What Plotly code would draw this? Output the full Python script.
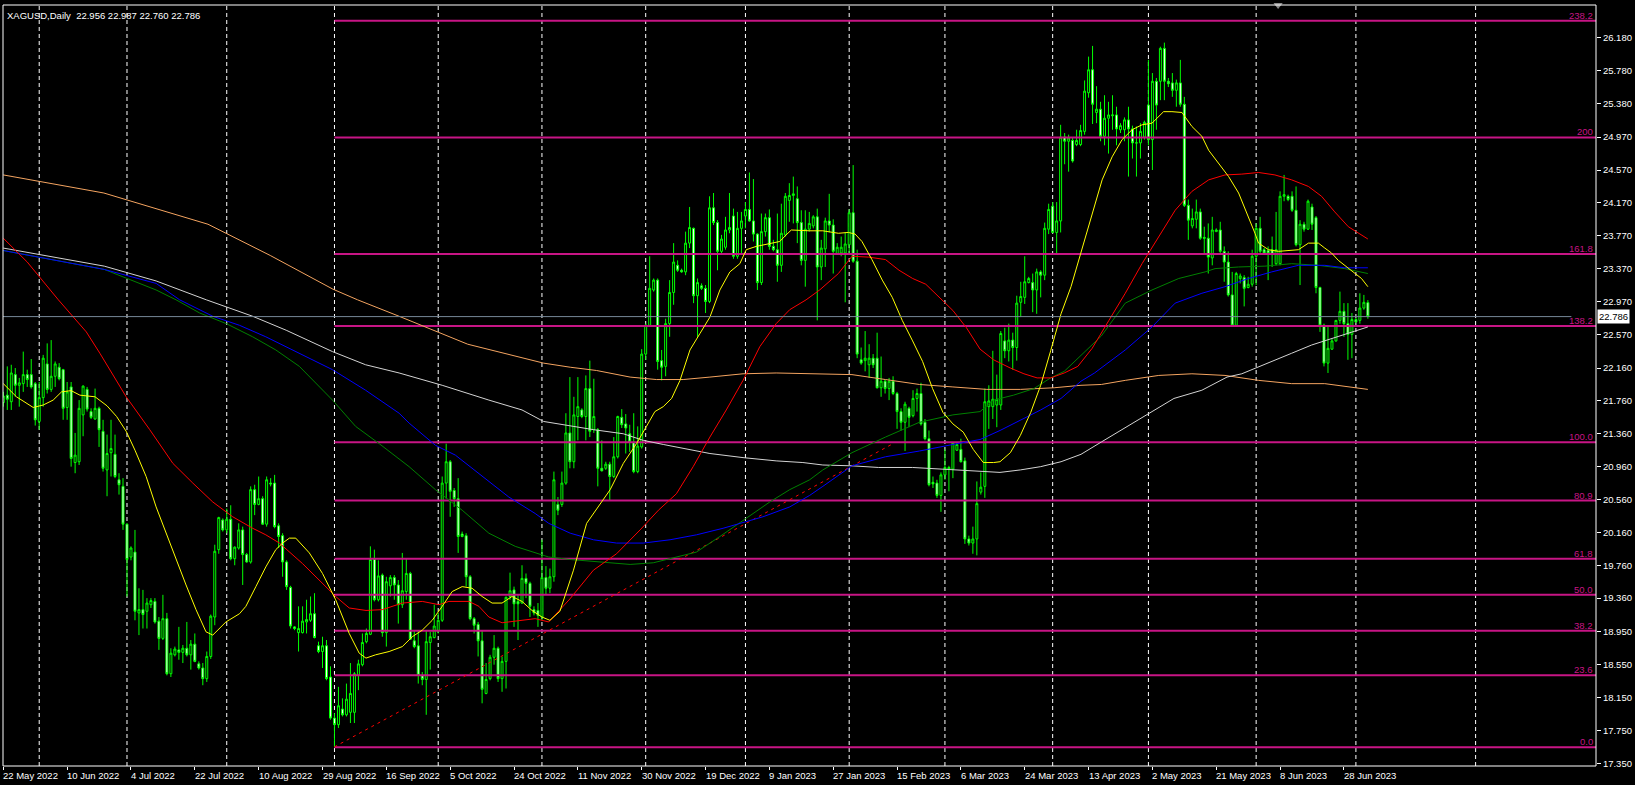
import plotly.graph_objects as go

# XAGUSD daily bars, index 0 = 22 May 2022 ... 342 = 5 Jul 2023 (broker has Sunday bars)
opens = [
    21.74, 21.83, 21.75, 22.08, 21.95, 21.97, 22.08, 22.08, 21.97, 21.51,
    21.80, 22.21, 21.90, 22.06, 22.17, 22.14, 21.68, 21.93, 21.01, 21.02,
    21.59, 21.90, 21.63, 21.54, 21.67, 21.39, 20.92, 21.13, 21.11, 20.80,
    20.72, 20.26, 19.86, 19.92, 19.18, 19.22, 19.20, 19.28, 19.32, 19.08,
    18.87, 19.11, 18.44, 18.67, 18.73, 18.70, 18.75, 18.67, 18.80, 18.56,
    18.51, 18.38, 18.65, 19.13, 19.95, 20.31, 20.19, 20.32, 19.84, 19.97,
    20.19, 19.89, 19.80, 20.68, 20.50, 20.57, 20.26, 20.76, 20.76, 20.24,
    20.12, 19.80, 19.49, 19.01, 18.94, 18.94, 19.07, 19.09, 19.17, 18.78,
    18.71, 18.78, 18.40, 17.90, 17.82, 18.01, 17.94, 17.97, 17.97, 18.42,
    18.55, 18.83, 18.92, 19.83, 19.34, 19.64, 18.94, 19.51, 19.61, 19.52,
    19.28, 19.44, 19.66, 18.84, 18.78, 18.42, 18.37, 18.82, 18.88, 18.96,
    19.09, 20.76, 21.02, 20.67, 20.57, 20.14, 20.12, 19.62, 19.11, 19.04,
    18.84, 18.20, 18.38, 18.64, 18.75, 18.38, 18.59, 19.38, 19.46, 19.32,
    19.30, 19.60, 19.54, 19.22, 19.21, 19.13, 19.61, 19.48, 19.62, 20.50,
    20.50, 20.76, 21.37, 21.02, 21.57, 21.65, 21.57, 21.91, 21.41, 21.41,
    20.94, 20.94, 20.99, 20.84, 21.08, 21.56, 21.48, 21.36, 21.26, 20.90,
    21.20, 22.33, 22.68, 23.11, 23.23, 22.25, 22.18, 22.70, 23.08, 23.41,
    23.35, 23.33, 23.68, 23.86, 23.04, 23.16, 23.13, 22.97, 24.11, 23.93,
    23.58, 23.63, 23.84, 24.01, 23.52, 23.86, 24.01, 24.09, 23.95, 23.79,
    23.20, 23.82, 23.99, 23.64, 23.60, 23.41, 23.78, 24.20, 24.26, 24.22,
    23.93, 23.47, 23.85, 23.89, 24.00, 23.39, 23.61, 23.95, 23.90, 23.55,
    23.56, 23.56, 23.66, 24.05, 23.46, 22.26, 22.25, 22.20, 22.28, 22.28,
    21.92, 22.00, 21.91, 22.00, 21.85, 21.63, 21.50, 21.67, 21.58, 21.79,
    21.85, 21.50, 21.30, 20.77, 20.76, 20.61, 20.86, 20.95, 20.93, 21.16,
    21.17, 21.03, 20.08, 20.03, 20.08, 20.65, 20.72, 21.69, 21.69, 21.71,
    21.71, 22.49, 22.37, 22.50, 22.41, 22.96, 23.02, 23.20, 23.20, 23.11,
    23.33, 23.29, 23.85, 24.13, 23.81, 23.95, 24.97, 24.92, 24.93, 24.88,
    24.88, 25.04, 25.51, 25.79, 25.27, 25.31, 24.98, 25.20, 25.23, 25.24,
    25.06, 25.06, 25.18, 25.07, 24.90, 24.90, 24.97, 25.36, 24.94, 25.65,
    25.65, 26.05, 25.65, 25.63, 25.54, 25.63, 25.37, 24.14, 23.89, 23.97,
    24.06, 23.75, 23.74, 23.50, 23.82, 23.84, 23.58, 23.45, 23.05, 22.68,
    23.25, 23.26, 23.14, 23.18, 23.52, 23.86, 23.60, 23.59, 23.60, 23.43,
    23.43, 24.25, 24.25, 24.25, 24.08, 23.66, 23.91, 23.85, 24.12, 23.99,
    23.14, 22.68, 22.22, 22.39, 22.49, 22.74, 22.85, 22.70, 22.57, 22.75,
    22.74, 22.89, 22.956,
]
highs = [
    21.87, 22.18, 22.20, 22.16, 22.04, 22.36, 22.14, 22.27, 21.99, 21.99,
    22.32, 22.46, 22.50, 22.24, 22.22, 22.15, 21.99, 21.99, 21.37, 21.77,
    21.95, 21.93, 21.67, 21.91, 21.69, 21.53, 21.35, 21.53, 21.35, 20.88,
    20.82, 20.27, 19.99, 20.19, 19.48, 19.46, 19.36, 19.36, 19.36, 19.13,
    19.40, 19.18, 18.75, 18.77, 19.01, 18.79, 19.07, 18.85, 18.93, 18.59,
    18.57, 18.71, 19.16, 20.01, 20.35, 20.33, 20.45, 20.49, 19.99, 20.27,
    20.23, 19.91, 20.72, 20.74, 20.84, 20.60, 20.84, 20.82, 20.86, 20.27,
    20.15, 19.82, 19.51, 19.02, 19.26, 19.26, 19.34, 19.38, 19.42, 18.83,
    18.89, 18.85, 18.53, 17.96, 18.28, 18.14, 18.32, 18.57, 18.46, 18.61,
    18.93, 18.99, 19.99, 19.95, 19.82, 19.66, 19.62, 19.64, 19.64, 19.58,
    19.91, 19.84, 19.68, 18.97, 18.97, 18.46, 18.97, 18.95, 19.28, 19.18,
    20.84, 21.24, 21.04, 20.70, 20.82, 20.17, 20.15, 19.64, 19.13, 19.07,
    18.97, 18.57, 18.67, 18.91, 18.77, 18.65, 19.38, 19.67, 19.50, 19.40,
    19.76, 19.66, 19.56, 19.26, 19.30, 20.07, 19.75, 19.72, 20.90, 20.59,
    20.90, 21.61, 22.05, 21.81, 22.05, 21.67, 22.07, 22.25, 22.03, 21.43,
    21.28, 21.02, 21.02, 21.32, 21.58, 21.66, 21.60, 21.47, 21.61, 21.45,
    22.39, 22.70, 23.52, 23.25, 23.25, 22.38, 22.76, 23.23, 23.68, 23.47,
    23.37, 23.82, 24.12, 23.87, 23.25, 23.19, 23.17, 24.25, 24.29, 23.96,
    23.78, 24.00, 24.29, 24.10, 24.06, 24.06, 24.18, 24.54, 24.46, 23.80,
    24.04, 24.04, 24.09, 23.72, 24.04, 24.16, 24.29, 24.41, 24.49, 24.37,
    24.08, 24.08, 24.06, 24.02, 24.10, 23.72, 23.99, 24.28, 23.97, 23.68,
    23.76, 23.81, 24.09, 24.63, 23.60, 22.41, 22.61, 22.45, 22.33, 22.59,
    22.30, 22.02, 22.04, 22.06, 21.87, 21.67, 21.75, 21.69, 21.89, 21.91,
    21.98, 21.54, 21.40, 20.84, 20.80, 20.89, 21.17, 20.97, 21.26, 21.26,
    21.30, 21.07, 20.12, 20.23, 20.78, 20.89, 21.91, 21.95, 22.37, 22.08,
    22.61, 22.65, 22.70, 22.59, 23.04, 23.21, 23.52, 23.27, 23.31, 23.37,
    23.35, 23.93, 24.16, 24.18, 24.18, 25.12, 25.02, 25.00, 24.96, 25.06,
    25.12, 25.66, 25.95, 26.08, 25.59, 25.40, 25.48, 25.40, 25.48, 25.34,
    25.14, 25.21, 25.34, 25.11, 25.10, 25.14, 25.17, 25.91, 25.75, 25.69,
    26.07, 26.12, 25.69, 25.75, 25.67, 25.91, 25.46, 24.21, 24.10, 24.21,
    24.10, 23.88, 23.92, 24.00, 23.86, 23.94, 23.64, 23.58, 23.33, 23.33,
    23.31, 23.29, 23.27, 23.60, 23.92, 24.00, 23.62, 23.64, 23.76, 24.06,
    24.31, 24.51, 24.27, 24.31, 24.37, 23.96, 23.94, 24.21, 24.16, 24.01,
    23.15, 22.70, 22.66, 22.52, 22.74, 23.09, 22.95, 22.95, 22.83, 22.77,
    23.07, 23.05, 22.987,
]
lows = [
    21.69, 21.65, 21.65, 21.81, 21.69, 21.87, 21.93, 21.91, 21.46, 21.41,
    21.69, 21.85, 21.87, 21.93, 22.01, 21.53, 21.53, 20.96, 20.88, 20.98,
    21.33, 21.63, 21.54, 21.53, 21.20, 20.90, 20.60, 20.84, 20.82, 20.62,
    20.19, 19.38, 19.82, 19.09, 18.91, 18.99, 18.99, 19.24, 19.05, 18.73,
    18.85, 18.42, 18.40, 18.65, 18.61, 18.57, 18.65, 18.49, 18.58, 18.49,
    18.30, 18.34, 18.62, 19.03, 19.90, 20.17, 20.15, 19.82, 19.76, 19.95,
    19.52, 19.79, 19.78, 20.37, 20.49, 20.25, 20.23, 20.72, 20.21, 19.97,
    19.62, 19.46, 18.99, 18.97, 18.71, 18.93, 18.93, 19.07, 18.87, 18.69,
    18.51, 18.36, 17.88, 17.55, 17.78, 17.92, 17.92, 17.84, 17.84, 18.24,
    18.53, 18.81, 18.91, 19.32, 19.32, 18.89, 18.77, 19.38, 19.34, 19.05,
    19.24, 19.34, 18.85, 18.75, 18.32, 18.30, 17.94, 18.49, 18.87, 18.93,
    19.07, 20.57, 20.35, 20.47, 19.91, 20.10, 19.50, 19.09, 18.93, 18.65,
    18.08, 18.19, 18.36, 18.55, 18.34, 18.22, 18.26, 19.34, 19.01, 18.85,
    19.29, 19.36, 19.13, 19.15, 19.01, 19.09, 19.40, 19.42, 19.56, 20.37,
    20.47, 20.74, 20.94, 20.94, 21.28, 21.55, 21.28, 21.32, 21.37, 20.72,
    20.90, 20.92, 20.55, 20.82, 21.06, 21.43, 21.12, 21.14, 20.88, 20.88,
    21.18, 22.26, 22.66, 23.09, 22.14, 22.01, 22.06, 22.54, 22.93, 23.33,
    23.32, 23.29, 23.62, 22.95, 22.54, 23.11, 22.83, 22.95, 23.90, 23.35,
    23.56, 23.60, 23.80, 23.49, 23.49, 23.54, 23.86, 23.94, 23.70, 23.11,
    23.17, 23.76, 23.60, 23.58, 23.21, 23.33, 23.76, 23.94, 23.92, 23.68,
    23.41, 23.15, 23.82, 23.86, 22.74, 23.23, 23.39, 23.81, 23.31, 23.54,
    23.52, 22.96, 23.56, 23.44, 22.28, 22.20, 22.12, 22.04, 22.16, 21.91,
    21.81, 21.85, 21.77, 21.83, 21.42, 21.40, 21.15, 21.44, 21.56, 21.63,
    21.46, 21.28, 20.72, 20.70, 20.58, 20.41, 20.80, 20.66, 20.82, 21.15,
    21.01, 20.02, 20.00, 19.90, 19.88, 20.62, 20.58, 21.42, 21.54, 21.44,
    21.65, 22.28, 22.24, 22.14, 22.25, 22.78, 22.94, 23.19, 22.84, 22.82,
    23.02, 23.23, 23.79, 23.80, 23.55, 23.81, 24.64, 24.55, 24.66, 24.86,
    24.86, 25.00, 25.45, 25.13, 25.14, 24.92, 24.87, 24.77, 25.06, 24.87,
    25.02, 24.92, 24.49, 24.71, 24.49, 24.71, 24.94, 24.87, 24.57, 25.06,
    25.42, 25.42, 25.58, 25.46, 25.34, 25.34, 24.12, 23.72, 23.86, 23.86,
    23.72, 23.56, 23.31, 23.41, 23.82, 23.56, 23.21, 23.03, 22.66, 22.66,
    23.19, 22.91, 23.13, 23.15, 23.17, 23.56, 23.56, 23.23, 23.39, 23.41,
    23.41, 24.19, 24.19, 24.06, 23.64, 23.17, 23.82, 23.84, 23.84, 23.07,
    22.60, 22.18, 22.10, 22.38, 22.48, 22.70, 22.54, 22.26, 22.28, 22.71,
    22.70, 22.87, 22.760,
]
closes = [
    21.82, 21.78, 22.10, 21.95, 21.98, 22.08, 22.02, 21.93, 21.53, 21.80,
    22.28, 21.90, 22.06, 22.21, 22.03, 21.67, 21.87, 21.06, 21.10, 21.67,
    21.94, 21.66, 21.56, 21.67, 21.41, 20.94, 21.12, 21.18, 20.84, 20.74,
    20.26, 19.83, 19.97, 19.20, 19.22, 19.16, 19.30, 19.33, 19.07, 18.87,
    19.11, 18.44, 18.69, 18.74, 18.70, 18.75, 18.67, 18.80, 18.59, 18.51,
    18.38, 18.65, 19.14, 19.93, 20.34, 20.19, 20.32, 19.84, 19.98, 20.19,
    19.89, 19.80, 20.68, 20.50, 20.57, 20.26, 20.80, 20.75, 20.23, 20.11,
    19.80, 19.50, 19.02, 18.99, 18.99, 19.08, 19.10, 19.17, 18.88, 18.71,
    18.78, 18.38, 17.90, 17.82, 18.05, 17.94, 18.13, 18.20, 18.44, 18.56,
    18.82, 18.93, 19.83, 19.34, 19.63, 18.94, 19.56, 19.61, 19.52, 19.28,
    19.45, 19.66, 18.86, 18.77, 18.42, 18.37, 18.83, 18.89, 19.02, 19.09,
    20.76, 21.02, 20.66, 20.57, 20.11, 20.11, 19.62, 19.11, 19.03, 18.84,
    18.25, 18.37, 18.64, 18.75, 18.38, 18.59, 19.37, 19.45, 19.29, 19.29,
    19.60, 19.54, 19.26, 19.18, 19.15, 19.61, 19.48, 19.62, 20.80, 20.43,
    20.76, 21.37, 21.02, 21.59, 21.69, 21.57, 21.91, 21.39, 21.57, 20.94,
    20.91, 20.99, 20.84, 21.08, 21.57, 21.47, 21.43, 21.26, 20.90, 21.21,
    22.33, 22.68, 23.13, 23.23, 22.24, 22.17, 22.70, 23.08, 23.45, 23.35,
    23.33, 23.68, 23.87, 23.04, 23.20, 23.13, 22.97, 24.11, 23.93, 23.58,
    23.73, 23.84, 23.87, 23.52, 23.86, 23.95, 24.09, 23.95, 23.79, 23.20,
    23.82, 23.99, 23.64, 23.60, 23.41, 23.80, 24.25, 24.26, 24.28, 23.93,
    23.47, 23.85, 23.92, 24.00, 23.39, 23.62, 23.95, 23.90, 23.58, 23.63,
    23.63, 23.67, 24.05, 23.46, 22.33, 22.22, 22.28, 22.28, 22.20, 21.92,
    22.00, 21.91, 22.00, 21.85, 21.63, 21.50, 21.72, 21.56, 21.79, 21.85,
    21.48, 21.30, 20.74, 20.75, 20.61, 20.86, 20.95, 20.93, 21.25, 21.23,
    21.02, 20.08, 20.03, 20.08, 20.51, 20.71, 21.75, 21.76, 21.78, 21.78,
    22.58, 22.37, 22.50, 22.41, 22.95, 23.03, 23.21, 23.25, 23.11, 23.33,
    23.29, 23.86, 24.09, 23.81, 23.95, 24.97, 24.92, 24.96, 24.68, 24.93,
    25.05, 25.53, 25.79, 25.37, 25.31, 24.98, 25.20, 25.24, 25.24, 25.07,
    25.11, 25.18, 25.07, 24.90, 24.90, 25.04, 25.15, 24.94, 25.65, 25.36,
    26.05, 25.65, 25.62, 25.54, 25.63, 25.37, 24.14, 23.96, 23.98, 24.06,
    23.74, 23.74, 23.51, 23.84, 23.84, 23.58, 23.45, 23.05, 22.68, 23.31,
    23.28, 23.13, 23.18, 23.52, 23.86, 23.58, 23.56, 23.55, 23.54, 23.60,
    24.25, 24.27, 24.21, 24.08, 23.66, 23.91, 23.85, 24.19, 23.91, 23.14,
    22.68, 22.22, 22.40, 22.49, 22.74, 22.85, 22.70, 22.57, 22.75, 22.72,
    22.89, 22.96, 22.786,
]
bars = list(range(len(closes)))

# moving averages, sampled along the bar index
ma_yellow_x = [0, 3.3, 7.5, 10, 12.5, 14.6, 17, 19.2, 23, 26, 28.4, 30.8, 33, 35.8, 38.3, 40.8,
               43.3, 45.8, 48.3, 50.8, 52.5, 55.8, 59.2, 60.8, 63.3, 65.8, 68.3, 70, 71.7, 73.3,
               76.7, 80, 83.3, 86.7, 89.2, 90.9, 93.3, 96.7, 100, 102.5, 105, 107.5, 110, 112.5,
               115, 117.5, 120, 122.5, 125, 127.5, 130, 132.5, 135, 137, 139.5, 142.9, 146.2,
               149.6, 152.1, 155.4, 158.7, 161.2, 163.3, 165.4, 167.5, 169.6, 172.1, 174.6,
               177.1, 179.6, 182.1, 184.6, 186.2, 188.7, 192.1, 194.6, 196.2, 197.5, 202,
               205.4, 209.3, 211.8, 213.5, 215.2, 217.7, 220.3, 222.8, 225.3, 227.9, 230.4,
               232.9, 235.5, 238, 240.6, 243.1, 245.6, 248.2, 249.8, 252.4, 254.9, 257.5, 260,
               262.5, 265.1, 267.6, 270.1, 272.9, 275.4, 277.9, 280.4, 282.9, 285.4, 287.9,
               289.6, 290.8, 292.9, 295.4, 297.9, 300.4, 302.1, 304.6, 307.1, 309.6, 312.1,
               313.7, 314.6, 317.1, 319.6, 322.9, 324.6, 327.1, 329.6, 331.2, 332.9, 334.6,
               336.2, 338.7, 340.4, 342]
ma_yellow_y = [21.97, 21.81, 21.68, 21.71, 21.77, 21.87, 21.885, 21.83, 21.81, 21.70, 21.57,
               21.39, 21.16, 20.84, 20.47, 20.15, 19.82, 19.52, 19.22, 18.95, 18.91, 19.07,
               19.17, 19.26, 19.50, 19.74, 19.95, 20.03, 20.09, 20.09, 19.91, 19.66, 19.34,
               18.93, 18.69, 18.63, 18.67, 18.71, 18.77, 18.89, 18.97, 19.09, 19.26, 19.44,
               19.50, 19.48, 19.38, 19.30, 19.30, 19.38, 19.32, 19.21, 19.13, 19.09, 19.20,
               19.70, 20.27, 20.51, 20.68, 21.00, 21.24, 21.45, 21.63, 21.69, 21.79, 22.01,
               22.38, 22.58, 22.78, 23.11, 23.33, 23.43, 23.60, 23.64, 23.68, 23.70, 23.78,
               23.84, 23.83, 23.83, 23.80, 23.81, 23.79, 23.70, 23.48, 23.23, 23.02, 22.74,
               22.49, 22.24, 21.91, 21.62, 21.48, 21.38, 21.17, 21.01, 21.01, 21.02, 21.13,
               21.34, 21.62, 21.95, 22.37, 22.82, 23.15, 23.56, 24.02, 24.45, 24.73, 24.94,
               25.06, 25.12, 25.14, 25.22, 25.28, 25.28, 25.27, 25.10, 24.98, 24.81, 24.65,
               24.49, 24.29, 24.00, 23.80, 23.68, 23.60, 23.58, 23.59, 23.60, 23.68, 23.68,
               23.62, 23.56, 23.47, 23.41, 23.31, 23.25, 23.15]

ma_red_x = [0, 6, 13.8, 18.3, 20.8, 24.2, 30.8, 36.7, 42.5, 47.5, 52.5, 57.5, 62.5, 65.8, 69.2,
            75, 79.2, 83.3, 86.7, 90.9, 95, 100, 105, 109.2, 111.7, 116.7, 119.2, 121.7, 125,
            129.2, 133.3, 136.7, 142, 147.9, 153.7, 159.6, 164.2, 168.7, 172.9, 177.1, 181.2,
            185.4, 189.6, 193.7, 197.1, 201.2, 204.6, 209.3, 212.7, 216.9, 221.1, 224.5,
            227.9, 231.2, 234.6, 238, 241.4, 244.8, 248.2, 252.4, 255.8, 259.1, 262.5, 265.9,
            269.3, 272.9, 277.1, 281.2, 285.4, 289.6, 293.7, 297.9, 302.1, 306.2, 310.4,
            314.6, 318.7, 322.9, 327.1, 330.4, 333.7, 337.1, 339.6, 342]
ma_red_y = [23.74, 23.45, 22.99, 22.745, 22.60, 22.34, 21.81, 21.41, 21.00, 20.76, 20.53, 20.35,
            20.21, 20.13, 20.03, 19.78, 19.58, 19.38, 19.24, 19.21, 19.22, 19.30, 19.32, 19.28,
            19.32, 19.32, 19.26, 19.13, 19.06, 19.09, 19.11, 19.07, 19.35, 19.70, 19.90, 20.19,
            20.43, 20.63, 20.96, 21.32, 21.65, 22.01, 22.42, 22.70, 22.87, 22.99, 23.11, 23.31,
            23.52, 23.51, 23.48, 23.35, 23.25, 23.18, 23.02, 22.86, 22.65, 22.39, 22.26, 22.16,
            22.09, 22.04, 22.04, 22.10, 22.18, 22.40, 22.74, 23.07, 23.43, 23.76, 24.08, 24.31,
            24.45, 24.51, 24.52, 24.54, 24.51, 24.45, 24.37, 24.25, 24.06, 23.88, 23.80, 23.73]

ma_green_x = [0, 25.3, 38.3, 43.3, 49.2, 55.9, 62.5, 68.3, 74.2, 82.5, 88.3, 94.2, 101.7, 108.3,
              115, 121.7, 128.3, 133.3, 136.7, 142.1, 150.4, 157.1, 162.9, 168.7, 173.7, 179.6,
              185.4, 192.1, 197.1, 202.1, 205.4, 212.7, 221.1, 229.6, 238, 244.8, 248.2, 253.2,
              258.3, 262.5, 265.9, 269.3, 272.8, 275.2, 281.2, 287.9, 294.6, 301.2, 303.7,
              309.6, 316.2, 322.9, 329.6, 336.2, 342]
ma_green_y = [23.59, 23.36, 23.11, 22.99, 22.83, 22.70, 22.54, 22.38, 22.18, 21.77, 21.45, 21.24,
              20.96, 20.68, 20.43, 20.15, 19.99, 19.91, 19.86, 19.83, 19.80, 19.77, 19.79, 19.86,
              19.92, 20.11, 20.31, 20.53, 20.68, 20.80, 20.92, 21.13, 21.32, 21.50, 21.59, 21.63,
              21.77, 21.83, 21.91, 22.04, 22.12, 22.28, 22.44, 22.55, 22.95, 23.11, 23.25, 23.33,
              23.37, 23.39, 23.40, 23.43, 23.41, 23.37, 23.31]

ma_blue_x = [0, 25.3, 38.3, 44.2, 52.5, 59.2, 65.8, 74.2, 82.5, 90.8, 99.2, 101.7, 108.3, 113.3,
             120, 126.7, 133.3, 136.7, 142.1, 147.9, 153.7, 160.4, 167.1, 173.7, 180.4, 185.4,
             190.4, 197.1, 202.1, 205.4, 212.7, 221.1, 229.6, 238, 244.8, 249.8, 254.9, 260,
             265.1, 270.1, 273.5, 281.2, 287.9, 293.7, 300.4, 306.2, 312.1, 317.9, 324.6, 331.2,
             336.2, 342]
ma_blue_y = [23.59, 23.36, 23.19, 22.99, 22.79, 22.68, 22.54, 22.34, 22.14, 21.89, 21.61, 21.49,
             21.22, 21.10, 20.84, 20.59, 20.39, 20.27, 20.15, 20.07, 20.03, 20.03, 20.07, 20.13,
             20.21, 20.28, 20.35, 20.47, 20.61, 20.72, 20.97, 21.08, 21.15, 21.23, 21.29, 21.40,
             21.52, 21.65, 21.79, 22.00, 22.10, 22.38, 22.66, 22.95, 23.07, 23.15, 23.25, 23.33,
             23.41, 23.41, 23.38, 23.38]

ma_white_x = [0, 25.3, 38.3, 50.9, 62.5, 70.9, 82.5, 90.8, 99.2, 110, 121.7, 130, 135.4, 140.4,
              147.9, 155.4, 160.4, 165.4, 170.4, 177.1, 185.4, 193.7, 200.4, 205.4, 212.7, 219.4,
              227.9, 236.3, 243.1, 249.8, 254.9, 260, 265.1, 270.1, 275.2, 280, 285, 293.4,
              300.4, 306.7, 310.4, 317.1, 322.9, 327.9, 332.9, 337.9, 342]
ma_white_y = [23.62, 23.40, 23.22, 22.99, 22.79, 22.62, 22.36, 22.20, 22.10, 21.95, 21.77, 21.65,
              21.51, 21.47, 21.41, 21.36, 21.28, 21.23, 21.18, 21.12, 21.07, 21.03, 21.01, 20.98,
              20.97, 20.95, 20.95, 20.93, 20.91, 20.89, 20.92, 20.96, 21.02, 21.11, 21.26, 21.40,
              21.55, 21.79, 21.89, 22.05, 22.09, 22.22, 22.34, 22.44, 22.52, 22.60, 22.66]

ma_orange_x = [0, 25.2, 51.3, 66.9, 82.6, 88.8, 99.2, 116.4, 135.4, 142.1, 148.7, 157.1, 163.7,
               170.4, 177.1, 185.4, 193.7, 200.4, 205.4, 212.7, 221.1, 229.6, 238, 246.5, 254.9,
               263.4, 270.1, 275.2, 281.2, 289.6, 297.9, 306.2, 314.6, 322.9, 331.2, 342]
ma_orange_y = [24.51, 24.29, 23.91, 23.53, 23.12, 22.99, 22.79, 22.45, 22.22, 22.17, 22.13, 22.05,
               22.02, 22.02, 22.05, 22.09, 22.10, 22.09, 22.09, 22.08, 22.02, 21.96, 21.93, 21.90,
               21.90, 21.92, 21.95, 21.96, 22.01, 22.07, 22.09, 22.07, 22.01, 21.97, 21.97, 21.90]

# fibonacci retracement from the Sep 2022 low
fib_names = ["0.0", "23.6", "38.2", "50.0", "61.8", "80.9", "100.0", "138.2", "161.8", "200", "238.2"]
fib_levels = [17.545, 18.421, 18.963, 19.401, 19.838, 20.547, 21.256, 22.673, 23.549, 24.967, 26.385]
fib_start_bar = 83

trend_bars = [83, 223]
trend_prices = [17.55, 21.24]

last_price = 22.786
header = "XAGUSD,Daily\u00a0\u00a022.956 22.987 22.760 22.786"

price_ticks = [26.18, 25.78, 25.38, 24.97, 24.57, 24.17, 23.77, 23.37, 22.97, 22.57, 22.16,
               21.76, 21.36, 20.96, 20.56, 20.16, 19.76, 19.36, 18.95, 18.55, 18.15, 17.75, 17.35]

date_labels = ["22 May 2022", "10 Jun 2022", "4 Jul 2022", "22 Jul 2022", "10 Aug 2022",
               "29 Aug 2022", "16 Sep 2022", "5 Oct 2022", "24 Oct 2022", "11 Nov 2022",
               "30 Nov 2022", "19 Dec 2022", "9 Jan 2023", "27 Jan 2023", "15 Feb 2023",
               "6 Mar 2023", "24 Mar 2023", "13 Apr 2023", "2 May 2023", "21 May 2023",
               "8 Jun 2023", "28 Jun 2023"]
date_label_bars = [0, 16, 32, 48, 64, 80, 96, 112, 128, 144, 160, 176, 192, 208, 224, 240,
                   256, 272, 288, 304, 320, 336]
month_start_bars = [9, 31, 56, 83, 109, 135, 161, 186, 212, 236, 263, 287, 314, 339, 369]

X_MIN, X_MAX = -0.075, 399.175
Y_MIN, Y_MAX = 17.317, 26.578
FONT = "Liberation Sans, Arial, sans-serif"
FIB_COLOR = "#C71585"

fig = go.Figure()

fig.add_trace(go.Candlestick(
    x=bars, open=opens, high=highs, low=lows, close=closes,
    increasing=dict(line=dict(color="#00FF00", width=1), fillcolor="#000000"),
    decreasing=dict(line=dict(color="#00FF00", width=1), fillcolor="#FFFFFF"),
    whiskerwidth=0, showlegend=False, hoverinfo="skip",
))

# fib levels
for lvl in fib_levels:
    fig.add_trace(go.Scatter(x=[fib_start_bar, X_MAX], y=[lvl, lvl], mode="lines",
                             line=dict(color=FIB_COLOR, width=2), showlegend=False,
                             hoverinfo="skip"))

# trendline
fig.add_trace(go.Scatter(x=trend_bars, y=trend_prices, mode="lines",
                         line=dict(color="#FF0000", width=1, dash="3px,4px"),
                         showlegend=False, hoverinfo="skip"))

for xs, ys, col in [
    (ma_orange_x, ma_orange_y, "#F4A460"),
    (ma_white_x, ma_white_y, "#D3D3D3"),
    (ma_green_x, ma_green_y, "#008000"),
    (ma_blue_x, ma_blue_y, "#0000FF"),
    (ma_red_x, ma_red_y, "#FF0000"),
    (ma_yellow_x, ma_yellow_y, "#FFFF00"),
]:
    fig.add_trace(go.Scatter(x=xs, y=ys, mode="lines", line=dict(color=col, width=1),
                             showlegend=False, hoverinfo="skip"))

# bid line
fig.add_trace(go.Scatter(x=[X_MIN, 393], y=[last_price, last_price], mode="lines",
                         line=dict(color="#778899", width=1), showlegend=False,
                         hoverinfo="skip"))

# chart shift marker
fig.add_trace(go.Scatter(x=[319.5], y=[Y_MAX], mode="markers",
                         marker=dict(symbol="triangle-down", size=8, color="#8A8A8A"),
                         cliponaxis=False, showlegend=False, hoverinfo="skip"))

shapes = []
for b in month_start_bars:
    shapes.append(dict(type="line", xref="x", yref="paper", x0=b, x1=b, y0=0, y1=1,
                       line=dict(color="#FFFFFF", width=1, dash="4px,3px"), layer="below"))
shapes.append(dict(type="rect", xref="paper", yref="paper", x0=0, x1=1, y0=0, y1=1,
                   line=dict(color="#FFFFFF", width=1)))

annotations = []
for name, lvl in zip(fib_names, fib_levels):
    annotations.append(dict(x=1, xref="paper", y=lvl, yref="y", text=name, showarrow=False,
                            xanchor="right", yanchor="bottom", xshift=-1, yshift=-2,
                            font=dict(family=FONT, size=9.5, color=FIB_COLOR)))
for b, lab in zip(date_label_bars, date_labels):
    annotations.append(dict(x=b, xref="x", y=0, yref="paper", text=lab, showarrow=False,
                            xanchor="left", yanchor="top", xshift=-2, yshift=-2,
                            font=dict(family=FONT, size=9.5, color="#FFFFFF")))
annotations.append(dict(x=0, xref="paper", y=1, yref="paper", text=header, showarrow=False,
                        xanchor="left", yanchor="top", xshift=2, yshift=-3,
                        font=dict(family=FONT, size=9.5, color="#FFFFFF")))
annotations.append(dict(x=1, xref="paper", y=last_price, yref="y", text=f"{last_price:.3f}",
                        showarrow=False, xanchor="left", yanchor="middle", xshift=1,
                        bgcolor="#FFFFFF", borderpad=1,
                        font=dict(family=FONT, size=9.5, color="#000000")))

fig.update_layout(
    width=1635, height=785,
    margin=dict(l=3, r=35, t=5, b=19),
    paper_bgcolor="#000000", plot_bgcolor="#000000",
    boxgap=0.3,
    showlegend=False,
    hovermode=False,
    xaxis=dict(range=[X_MIN, X_MAX], rangeslider=dict(visible=False), showgrid=False,
               zeroline=False, showline=False, tickvals=date_label_bars,
               ticktext=[""] * len(date_label_bars),
               ticks="outside", ticklen=3, tickcolor="#FFFFFF"),
    yaxis=dict(range=[Y_MIN, Y_MAX], side="right", showgrid=False, zeroline=False,
               showline=False, tickvals=price_ticks, ticktext=[f"{v:.3f}" for v in price_ticks],
               ticks="outside", ticklen=4, tickcolor="#FFFFFF",
               tickfont=dict(family=FONT, size=9.5, color="#FFFFFF")),
    shapes=shapes,
    annotations=annotations,
)

# the page's default body margin would push the 1635x785 figure off the window
fig.write_html("out.html", config={"displayModeBar": False},
               post_script="document.body.style.margin='0px';")
